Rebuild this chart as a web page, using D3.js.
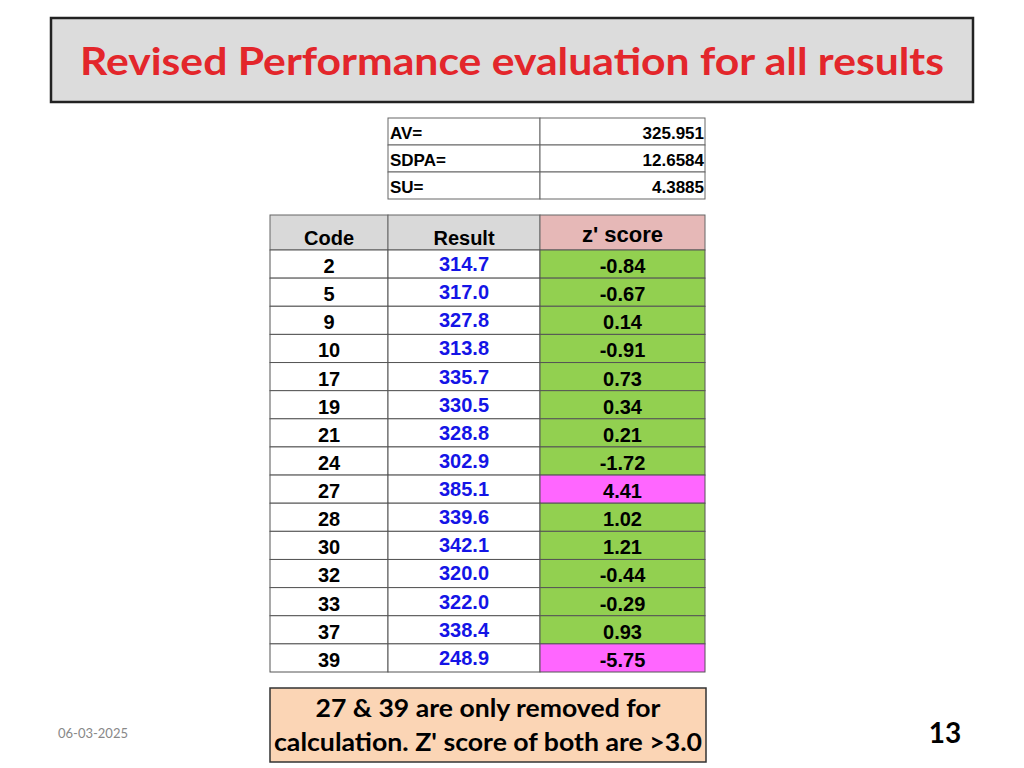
<!DOCTYPE html>
<html><head><meta charset="utf-8">
<script src="https://cdn.jsdelivr.net/npm/d3@7.9.0/dist/d3.min.js"></script>
<style>body{margin:0;background:#fff}</style>
</head><body>
<svg id="chart" width="1024" height="768"></svg>
<script>
const statLabels = ["AV=", "SDPA=", "SU="];
const statValues = ["325.951", "12.6584", "4.3885"];
const codes = [2, 5, 9, 10, 17, 19, 21, 24, 27, 28, 30, 32, 33, 37, 39];
const results = [314.7, 317.0, 327.8, 313.8, 335.7, 330.5, 328.8, 302.9, 385.1, 339.6, 342.1, 320.0, 322.0, 338.4, 248.9];
const zScores = [-0.84, -0.67, 0.14, -0.91, 0.73, 0.34, 0.21, -1.72, 4.41, 1.02, 1.21, -0.44, -0.29, 0.93, -5.75];
const headers = ["Code", "Result", "z' score"];

const svg = d3.select("#chart");
const calibri = "Lato, 'Open Sans', sans-serif";
const arial = "'Liberation Sans', Arial, sans-serif";

// title
svg.append("rect").attr("x", 51).attr("y", 18).attr("width", 922).attr("height", 84)
  .attr("fill", "#dcdcdc").attr("stroke", "#222").attr("stroke-width", 2.5);
svg.append("text").attr("x", 512).attr("y", 75).attr("text-anchor", "middle")
  .attr("font-family", calibri).attr("font-weight", "bold").attr("font-size", 38)
  .attr("textLength", 864).attr("lengthAdjust", "spacingAndGlyphs")
  .attr("fill", "#e3262b").text("Revised Performance evaluation for all results");

// stats table
const sy = d3.scaleBand().domain(d3.range(statLabels.length)).range([118, 199]);
const sg = svg.append("g");
statLabels.forEach((l, i) => {
  sg.append("rect").attr("x", 388).attr("y", sy(i)).attr("width", 152).attr("height", sy.bandwidth())
    .attr("fill", "#fff").attr("stroke", "#666");
  sg.append("rect").attr("x", 540).attr("y", sy(i)).attr("width", 165).attr("height", sy.bandwidth())
    .attr("fill", "#fff").attr("stroke", "#666");
  sg.append("text").attr("x", 390).attr("y", sy(i) + 21).attr("font-family", arial)
    .attr("font-weight", "bold").attr("font-size", 17).text(l);
  sg.append("text").attr("x", 704).attr("y", sy(i) + 21).attr("text-anchor", "end").attr("font-family", arial)
    .attr("font-weight", "bold").attr("font-size", 17).text(statValues[i]);
});

// main table
const colX = [270, 388, 540, 705];
const headerFill = ["#d9d9d9", "#d9d9d9", "#e6b8b7"];
const y = d3.scaleBand().domain(d3.range(codes.length)).range([250, 672]);
const g = svg.append("g");
headers.forEach((h, j) => {
  g.append("rect").attr("x", colX[j]).attr("y", 215).attr("width", colX[j + 1] - colX[j]).attr("height", 35)
    .attr("fill", headerFill[j]).attr("stroke", "#666");
  g.append("text").attr("x", (colX[j] + colX[j + 1]) / 2).attr("y", j == 2 ? 242 : 245)
    .attr("text-anchor", "middle").attr("font-family", arial).attr("font-weight", "bold")
    .attr("font-size", j == 2 ? 22 : 20).text(h);
});
codes.forEach((c, i) => {
  const z = zScores[i];
  const cells = [
    {t: c, fill: "#fff", col: "#000"},
    {t: results[i].toFixed(1), fill: "#fff", col: "#1414e6"},
    {t: z.toFixed(2), fill: Math.abs(z) > 3 ? "#ff66ff" : "#92d050", col: "#000"}
  ];
  cells.forEach((d, j) => {
    g.append("rect").attr("x", colX[j]).attr("y", y(i)).attr("width", colX[j + 1] - colX[j]).attr("height", y.bandwidth())
      .attr("fill", d.fill).attr("stroke", "#555");
    g.append("text").attr("x", (colX[j] + colX[j + 1]) / 2).attr("y", y(i) + (j == 1 ? 21 : 23))
      .attr("text-anchor", "middle").attr("font-family", arial).attr("font-weight", "bold")
      .attr("font-size", 20).attr("fill", d.col).text(d.t);
  });
});

// note
svg.append("rect").attr("x", 270).attr("y", 688).attr("width", 436).attr("height", 74)
  .attr("fill", "#fbd5b5").attr("stroke", "#333").attr("stroke-width", 1.5);
svg.append("text").attr("x", 488).attr("y", 717).attr("text-anchor", "middle")
  .attr("font-family", calibri).attr("font-weight", "bold").attr("font-size", 25)
  .attr("textLength", 345).attr("lengthAdjust", "spacingAndGlyphs")
  .text("27 & 39 are only removed for");
svg.append("text").attr("x", 488).attr("y", 751).attr("text-anchor", "middle")
  .attr("font-family", calibri).attr("font-weight", "bold").attr("font-size", 25)
  .attr("textLength", 428).attr("lengthAdjust", "spacingAndGlyphs")
  .text("calculation. Z' score of both are >3.0");

svg.append("text").attr("x", 58).attr("y", 738).attr("font-family", calibri)
  .attr("font-size", 13).attr("fill", "#888").text("06-03-2025");
svg.append("text").attr("x", 945).attr("y", 743).attr("text-anchor", "middle")
  .attr("font-family", calibri).attr("font-weight", "bold").attr("font-size", 28).text("13");
</script>
</body></html>
